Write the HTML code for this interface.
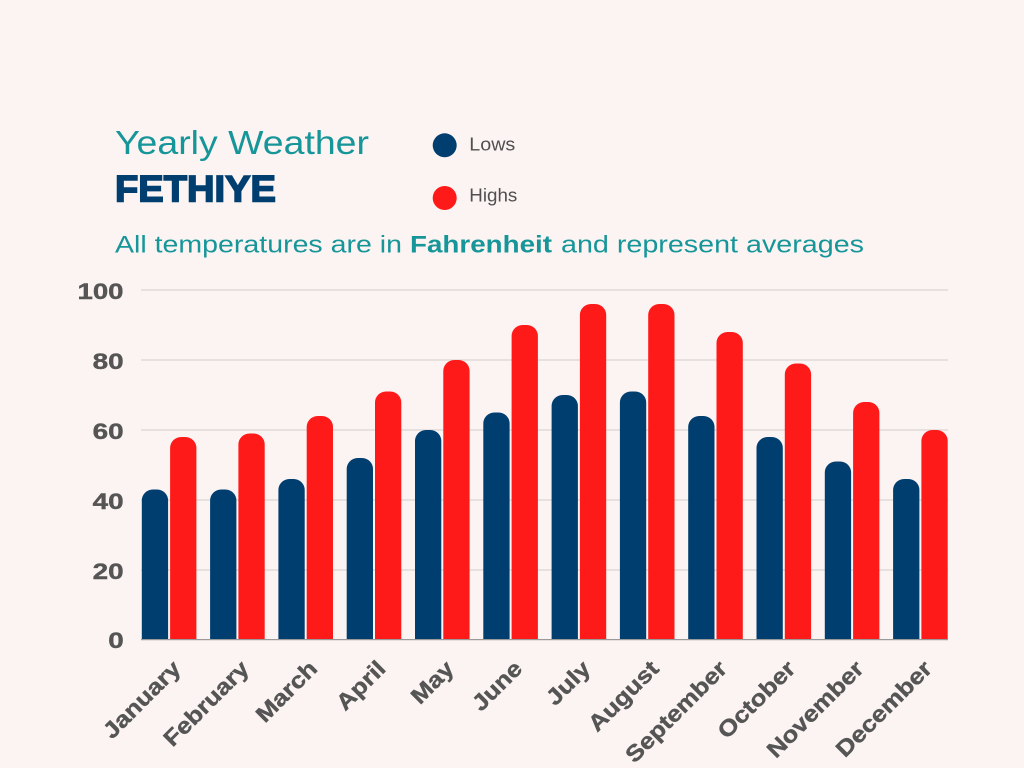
<!DOCTYPE html>
<html>
<head>
<meta charset="utf-8">
<style>
  html, body { margin: 0; padding: 0; background: #fcf4f2; }
  body { width: 1024px; height: 768px; overflow: hidden; }
  svg { display: block; }
  text { font-family: "Liberation Sans", Arial, sans-serif; }
</style>
</head>
<body>
<svg width="1024" height="768" viewBox="0 0 1024 768" xmlns="http://www.w3.org/2000/svg">
  <rect x="0" y="0" width="1024" height="768" fill="#fcf4f2"/>
  <defs>
    <clipPath id="plot">
      <rect x="130" y="250" width="830" height="389.5"/>
    </clipPath>
  </defs>

  <!-- Titles -->
  <text x="115" y="154" font-size="33" fill="#17969a" textLength="254" lengthAdjust="spacingAndGlyphs">Yearly Weather</text>
  <text x="115" y="201.5" font-size="37" font-weight="bold" fill="#003e70" stroke="#003e70" stroke-width="1.6" textLength="161" lengthAdjust="spacingAndGlyphs">FETHIYE</text>

  <!-- Legend -->
  <circle cx="444.7" cy="145.3" r="12" fill="#003e70"/>
  <text x="469.3" y="150.3" font-size="18" fill="#505050" textLength="46" lengthAdjust="spacingAndGlyphs">Lows</text>
  <circle cx="444.7" cy="198" r="12" fill="#ff1a1a"/>
  <text x="469.3" y="201.7" font-size="18" fill="#505050" textLength="48" lengthAdjust="spacingAndGlyphs">Highs</text>

  <!-- Subtitle -->
  <text x="115" y="252.3" font-size="24" fill="#17969a" textLength="287" lengthAdjust="spacingAndGlyphs">All temperatures are in</text>
  <text x="410" y="252.3" font-size="24" font-weight="bold" fill="#17969a" textLength="142" lengthAdjust="spacingAndGlyphs">Fahrenheit</text>
  <text x="561" y="252.3" font-size="24" fill="#17969a" textLength="303" lengthAdjust="spacingAndGlyphs">and represent averages</text>

  <!-- Gridlines -->
  <g stroke="#dedad8" stroke-width="1.5">
    <line x1="141" y1="290" x2="948" y2="290"/>
    <line x1="141" y1="360" x2="948" y2="360"/>
    <line x1="141" y1="430" x2="948" y2="430"/>
    <line x1="141" y1="500" x2="948" y2="500"/>
    <line x1="141" y1="570" x2="948" y2="570"/>
  </g>

  <!-- Y tick labels -->
  <g font-size="22" font-weight="bold" fill="#555555" stroke="#555555" stroke-width="0.4">
    <text x="77.5" y="299" textLength="46" lengthAdjust="spacingAndGlyphs">100</text>
    <text x="92.7" y="369" textLength="31" lengthAdjust="spacingAndGlyphs">80</text>
    <text x="92.7" y="439" textLength="31" lengthAdjust="spacingAndGlyphs">60</text>
    <text x="92.7" y="509" textLength="31" lengthAdjust="spacingAndGlyphs">40</text>
    <text x="92.7" y="579" textLength="31" lengthAdjust="spacingAndGlyphs">20</text>
    <text x="108.3" y="647.8" textLength="15.5" lengthAdjust="spacingAndGlyphs">0</text>
  </g>

  <!-- Bars -->
  <g clip-path="url(#plot)">
    <g fill="#003e70">
      <rect x="141.8" y="489.5" width="26.3" height="180" rx="11" ry="11"/>
      <rect x="210.1" y="489.5" width="26.3" height="180" rx="11" ry="11"/>
      <rect x="278.4" y="479" width="26.3" height="190" rx="11" ry="11"/>
      <rect x="346.7" y="458" width="26.3" height="210" rx="11" ry="11"/>
      <rect x="415.0" y="430" width="26.3" height="240" rx="11" ry="11"/>
      <rect x="483.3" y="412.5" width="26.3" height="260" rx="11" ry="11"/>
      <rect x="551.6" y="395" width="26.3" height="280" rx="11" ry="11"/>
      <rect x="619.9" y="391.5" width="26.3" height="280" rx="11" ry="11"/>
      <rect x="688.2" y="416" width="26.3" height="260" rx="11" ry="11"/>
      <rect x="756.5" y="437" width="26.3" height="240" rx="11" ry="11"/>
      <rect x="824.8" y="461.5" width="26.3" height="210" rx="11" ry="11"/>
      <rect x="893.1" y="479" width="26.3" height="190" rx="11" ry="11"/>
    </g>
    <g fill="#ff1a1a">
      <rect x="170.1" y="437" width="26.3" height="240" rx="11" ry="11"/>
      <rect x="238.4" y="433.5" width="26.3" height="240" rx="11" ry="11"/>
      <rect x="306.7" y="416" width="26.3" height="260" rx="11" ry="11"/>
      <rect x="375.0" y="391.5" width="26.3" height="280" rx="11" ry="11"/>
      <rect x="443.3" y="360" width="26.3" height="310" rx="11" ry="11"/>
      <rect x="511.6" y="325" width="26.3" height="350" rx="11" ry="11"/>
      <rect x="579.9" y="304" width="26.3" height="370" rx="11" ry="11"/>
      <rect x="648.2" y="304" width="26.3" height="370" rx="11" ry="11"/>
      <rect x="716.5" y="332" width="26.3" height="340" rx="11" ry="11"/>
      <rect x="784.8" y="363.5" width="26.3" height="310" rx="11" ry="11"/>
      <rect x="853.1" y="402" width="26.3" height="270" rx="11" ry="11"/>
      <rect x="921.4" y="430" width="26.3" height="240" rx="11" ry="11"/>
    </g>
  </g>

  <!-- Baseline -->
  <line x1="141" y1="639.6" x2="948" y2="639.6" stroke="#9a9a9a" stroke-width="1.3"/>

  <!-- Month labels -->
  <g font-size="22.5" font-weight="bold" fill="#555555" stroke="#555555" stroke-width="0.4">
    <g transform="translate(182.1,670) rotate(-45)"><text x="-99" y="0" textLength="99" lengthAdjust="spacingAndGlyphs">January</text></g>
    <g transform="translate(250.4,670) rotate(-45)"><text x="-110" y="0" textLength="110" lengthAdjust="spacingAndGlyphs">February</text></g>
    <g transform="translate(318.7,670) rotate(-45)"><text x="-76" y="0" textLength="76" lengthAdjust="spacingAndGlyphs">March</text></g>
    <g transform="translate(387.0,670) rotate(-45)"><text x="-59" y="0" textLength="59" lengthAdjust="spacingAndGlyphs">April</text></g>
    <g transform="translate(455.3,670) rotate(-45)"><text x="-50" y="0" textLength="50" lengthAdjust="spacingAndGlyphs">May</text></g>
    <g transform="translate(523.6,670) rotate(-45)"><text x="-60" y="0" textLength="60" lengthAdjust="spacingAndGlyphs">June</text></g>
    <g transform="translate(591.9,670) rotate(-45)"><text x="-52" y="0" textLength="52" lengthAdjust="spacingAndGlyphs">July</text></g>
    <g transform="translate(660.2,670) rotate(-45)"><text x="-89" y="0" textLength="89" lengthAdjust="spacingAndGlyphs">August</text></g>
    <g transform="translate(728.5,670) rotate(-45)"><text x="-133" y="0" textLength="133" lengthAdjust="spacingAndGlyphs">September</text></g>
    <g transform="translate(796.8,670) rotate(-45)"><text x="-99" y="0" textLength="99" lengthAdjust="spacingAndGlyphs">October</text></g>
    <g transform="translate(865.1,670) rotate(-45)"><text x="-126" y="0" textLength="126" lengthAdjust="spacingAndGlyphs">November</text></g>
    <g transform="translate(933.4,670) rotate(-45)"><text x="-125" y="0" textLength="125" lengthAdjust="spacingAndGlyphs">December</text></g>
  </g>
</svg>
</body>
</html>
